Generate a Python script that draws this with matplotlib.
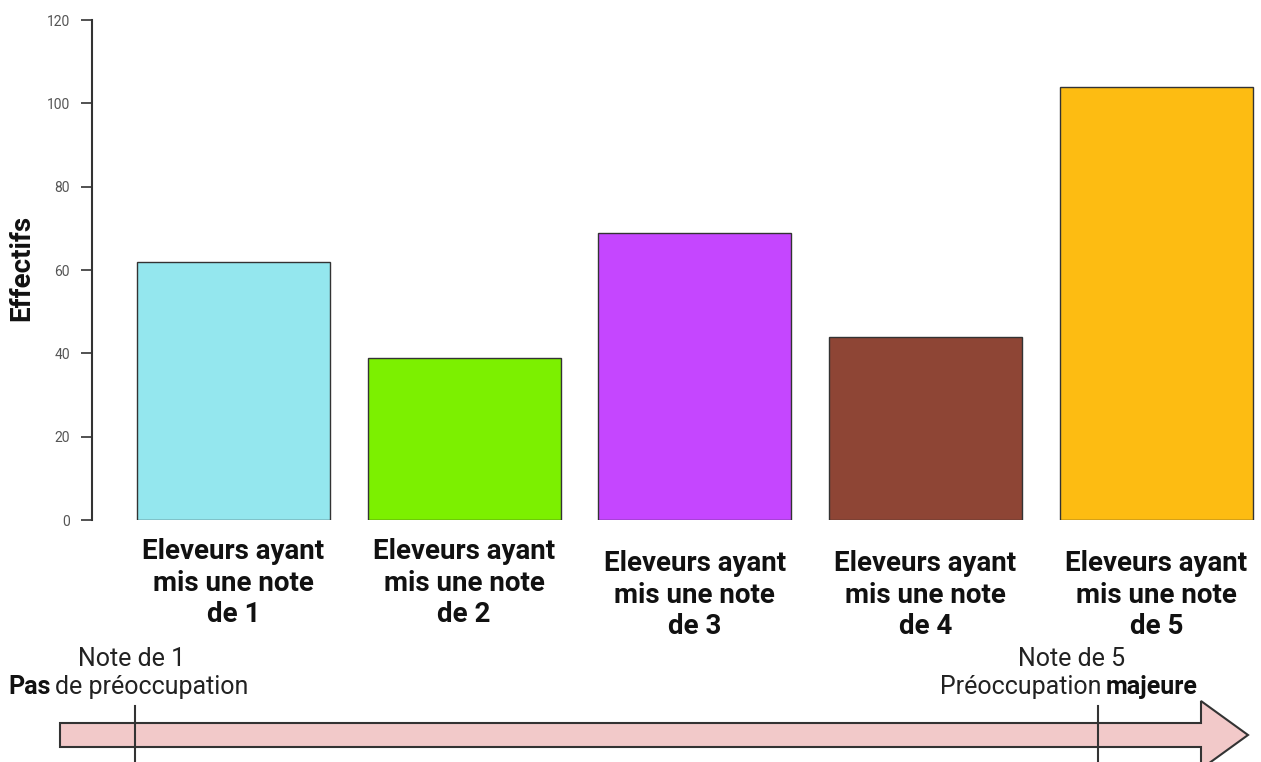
import matplotlib.pyplot as plt
import numpy as np
from matplotlib.patches import Polygon

plt.rcParams['font.family'] = ['Roboto', 'DejaVu Sans']

categories = ["Eleveurs ayant\nmis une note\nde 1",
              "Eleveurs ayant\nmis une note\nde 2",
              "Eleveurs ayant\nmis une note\nde 3",
              "Eleveurs ayant\nmis une note\nde 4",
              "Eleveurs ayant\nmis une note\nde 5"]
effectifs = [62, 39, 69, 44, 104]
colors = ["#94E7EE", "#7CF000", "#C546FF", "#8E4535", "#FDBC12"]
yticks = [0, 20, 40, 60, 80, 100, 120]

W, H = 1261, 762
fig = plt.figure(figsize=(W / 100, H / 100), dpi=100)
ax = fig.add_axes([92 / W, 1 - 520 / H, 1 - 92 / W, (520 - 20) / H])

x = np.arange(len(effectifs))
ax.bar(x, effectifs, width=0.836, color=colors, edgecolor="#333333", linewidth=1)
ax.set_xlim(-0.613, 4.454)
ax.set_ylim(0, 120)
ax.set_yticks(yticks)
ax.tick_params(axis='y', labelsize=10, labelcolor="#555555", length=8, width=1.2,
               color="#333333", pad=8)
ax.set_xticks([])
for s in ["top", "right", "bottom"]:
    ax.spines[s].set_visible(False)
ax.spines["left"].set_color("#333333")
ax.spines["left"].set_linewidth(1.5)
ax.spines["left"].set_bounds(0, 120)

# category labels under bars (first two sit slightly higher)
label_y = [-0.036, -0.036, -0.06, -0.06, -0.06]
for i, lab in enumerate(categories):
    ax.text(i, label_y[i], lab, transform=ax.get_xaxis_transform(), ha="center", va="top",
            fontsize=20, fontweight="bold", color="#111111", linespacing=1.22)

fig.text(22 / W, 1 - 268 / H, "Effectifs", rotation=90, ha="center", va="center",
         fontsize=20, fontweight="bold", color="#111111")

# bottom arrow scale
ov = fig.add_axes([0, 0, 1, 1], zorder=-1)
ov.set_xlim(0, W)
ov.set_ylim(H, 0)
ov.axis("off")
arrow = Polygon([(60, 723), (1201, 723), (1201, 701), (1248, 735),
                 (1201, 769), (1201, 747), (60, 747)],
                closed=True, facecolor="#F2C9C9", edgecolor="#333333", linewidth=1.5)
ov.add_patch(arrow)
ov.plot([135, 135], [706, 762], color="#333333", lw=1.5)
ov.plot([1098, 1098], [706, 762], color="#333333", lw=1.5)

fs = 18
ov.text(132, 659, "Note de 1", ha="center", va="center", fontsize=fs, color="#222222")
ov.text(51, 687, "Pas", ha="right", va="center", fontsize=fs, fontweight="bold", color="#111111")
ov.text(55, 687, "de préoccupation", ha="left", va="center", fontsize=fs, color="#222222")
ov.text(1072, 659, "Note de 5", ha="center", va="center", fontsize=fs, color="#222222")
ov.text(1101, 687, "Préoccupation", ha="right", va="center", fontsize=fs, color="#222222")
ov.text(1106, 687, "majeure", ha="left", va="center", fontsize=fs, fontweight="bold", color="#111111")

fig.savefig("out.png", dpi=100)
